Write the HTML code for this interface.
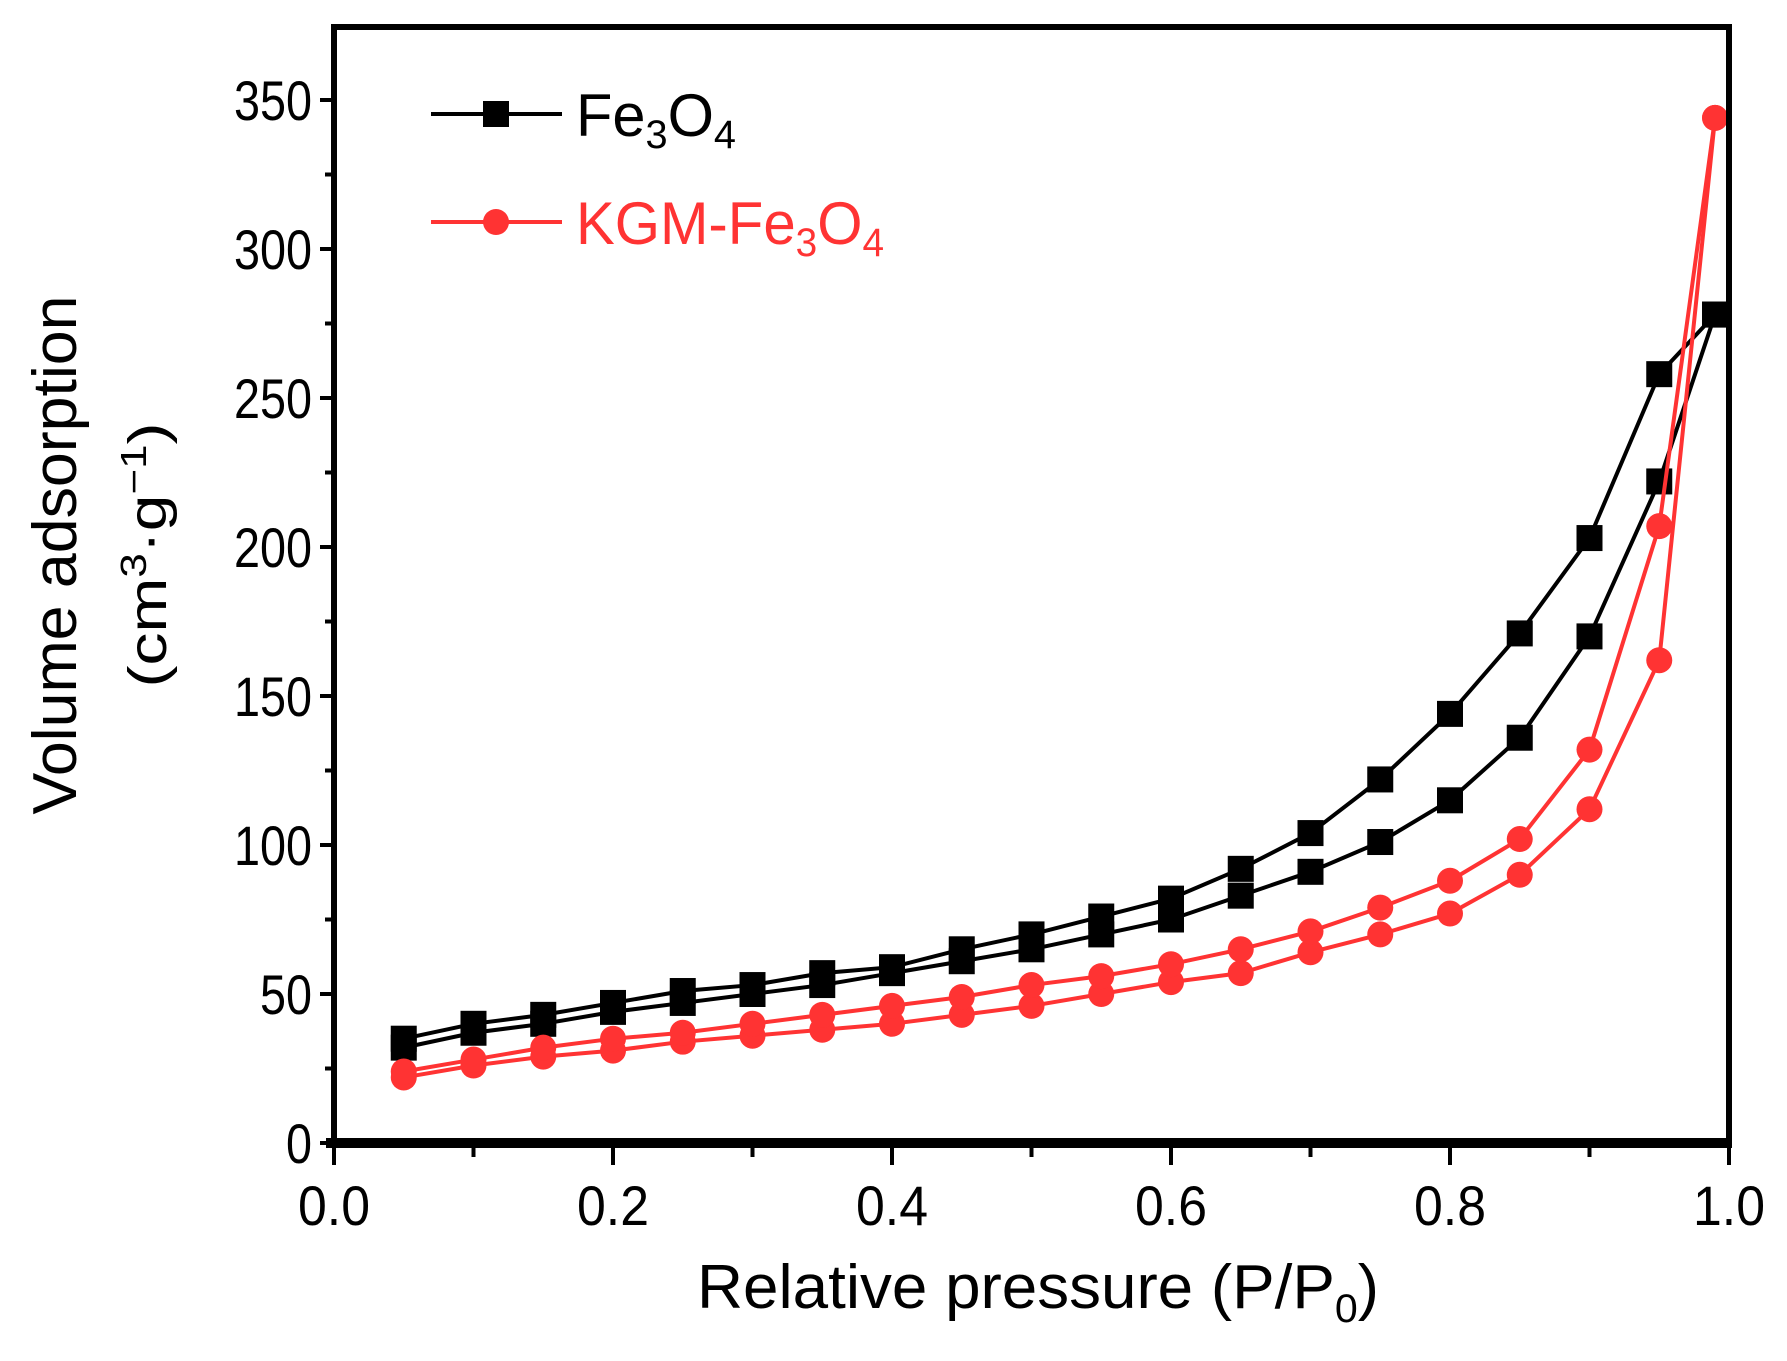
<!DOCTYPE html>
<html><head><meta charset="utf-8"><style>
html,body{margin:0;padding:0;background:#fff}
svg{display:block;font-family:"Liberation Sans",Arial,sans-serif}
</style></head><body>
<svg id="chart" width="1787" height="1361" viewBox="0 0 1787 1361">
<g id="plot"></g>
<g id="axes"></g>
<text x="1038" y="1308" font-size="62" text-anchor="middle" textLength="682" lengthAdjust="spacingAndGlyphs">Relative pressure (P/P<tspan font-size="40" dy="14">0</tspan><tspan dy="-14">)</tspan></text>
<g transform="translate(76,555) rotate(-90)">
<text x="0" y="0" font-size="62" text-anchor="middle" textLength="519" lengthAdjust="spacingAndGlyphs">Volume adsorption</text>
<text x="0" y="90" font-size="54" text-anchor="middle" textLength="265" lengthAdjust="spacingAndGlyphs">(cm<tspan font-size="36" dy="-20">3</tspan><tspan dy="20">·g</tspan><tspan font-size="36" dy="-20">−1</tspan><tspan dy="20">)</tspan></text>
</g>
<g>
<g>
<line x1="431" y1="114" x2="562" y2="114" stroke="#000" stroke-width="4"/>
<rect x="483" y="101" width="26" height="26" fill="#000"/>
<text x="576" y="136" font-size="60" textLength="160" lengthAdjust="spacingAndGlyphs">Fe<tspan font-size="40" dy="12">3</tspan><tspan dy="-12">O</tspan><tspan font-size="40" dy="12">4</tspan></text>
</g>
<g>
<line x1="431" y1="222" x2="562" y2="222" stroke="#f33" stroke-width="4"/>
<circle cx="496" cy="222" r="13" fill="#f33"/>
<text x="576" y="244" font-size="60" fill="#f33" textLength="308" lengthAdjust="spacingAndGlyphs">KGM-Fe<tspan font-size="40" dy="12">3</tspan><tspan dy="-12">O</tspan><tspan font-size="40" dy="12">4</tspan></text>
</g>
</g>
</svg>
<script>
const xs = [0.05,0.1,0.15,0.2,0.25,0.3,0.35,0.4,0.45,0.5,0.55,0.6,0.65,0.7,0.75,0.8,0.85,0.9,0.95,0.99];
const feDesorption = [35,40,43,47,51,53,57,59,65,70,76,82,92,104,122,144,171,203,258,278];
const feAdsorption = [32,37,40,44,47,50,53,57,61,65,70,75,83,91,101,115,136,170,222,278];
const kgmDesorption = [24,28,32,35,37,40,43,46,49,53,56,60,65,71,79,88,102,132,207,344];
const kgmAdsorption = [22,26,29,31,34,36,38,40,43,46,50,54,57,64,70,77,90,112,162,344];
const xTicks = [0,0.2,0.4,0.6,0.8,1.0];
const xTickLabels = ["0.0","0.2","0.4","0.6","0.8","1.0"];
const yTicks = [0,50,100,150,200,250,300,350];

const X0=334,X1=1729,Y0=1143,Y350=100;
function sx(v){return X0+(X1-X0)*v;}
function sy(v){return Y0-(Y0-Y350)*v/350;}
const NS="http://www.w3.org/2000/svg";
const plot=document.getElementById('plot'), axes=document.getElementById('axes');
function mk(tag,attrs,parent){const e=document.createElementNS(NS,tag);for(const k in attrs)e.setAttribute(k,attrs[k]);parent.appendChild(e);return e;}

function series(vals,color,shape,name){
  const g=mk('g',{},plot);
  
  
  const pts=xs.map((x,i)=>sx(x)+','+sy(vals[i])).join(' ');
  const pl=mk('polyline',{points:pts,fill:'none',stroke:color,'stroke-width':4},g);
  
  
  xs.forEach((x,i)=>{
    let m;
    if(shape==='sq') m=mk('rect',{x:sx(x)-13,y:sy(vals[i])-13,width:26,height:26,fill:color},g);
    else m=mk('circle',{cx:sx(x),cy:sy(vals[i]),r:13,fill:color},g);
    
    
  });
}
series(feAdsorption,'#000','sq','fe3o4-adsorption');
series(feDesorption,'#000','sq','fe3o4-desorption');
series(kgmAdsorption,'#f33','c','kgm-fe3o4-adsorption');
series(kgmDesorption,'#f33','c','kgm-fe3o4-desorption');

const fr=mk('rect',{x:X0,y:27,width:X1-X0,height:Y0-27,fill:'none',stroke:'#000','stroke-width':6},axes);


const bx=mk('line',{x1:X0-8,y1:Y0,x2:X1+3,y2:Y0,stroke:'#000','stroke-width':10},axes);


for(let v=0;v<=1.0001;v+=0.1){
  const major=Math.round(v*10)%2===0;
  const t=mk('line',{x1:sx(v),y1:Y0,x2:sx(v),y2:Y0+(major?22:14),stroke:'#000','stroke-width':4},axes);
  
  
}
xTicks.forEach((v,i)=>{
  const t=mk('text',{x:sx(v),y:Y0+82,'font-size':56,'text-anchor':'middle',textLength:72,lengthAdjust:'spacingAndGlyphs'},axes);
  t.textContent=xTickLabels[i];
  
  
});
for(let v=0;v<=350;v+=25){
  const major=v%50===0;
  const t=mk('line',{x1:X0,y1:sy(v),x2:X0-(major?14:9),y2:sy(v),stroke:'#000','stroke-width':4},axes);
  
  
}
yTicks.forEach(v=>{
  const s=String(v);
  const t=mk('text',{x:X0-22,y:sy(v)+20,'font-size':56,'text-anchor':'end',textLength:s.length*26,lengthAdjust:'spacingAndGlyphs'},axes);
  t.textContent=s;
  
  
});
</script>
</body></html>
